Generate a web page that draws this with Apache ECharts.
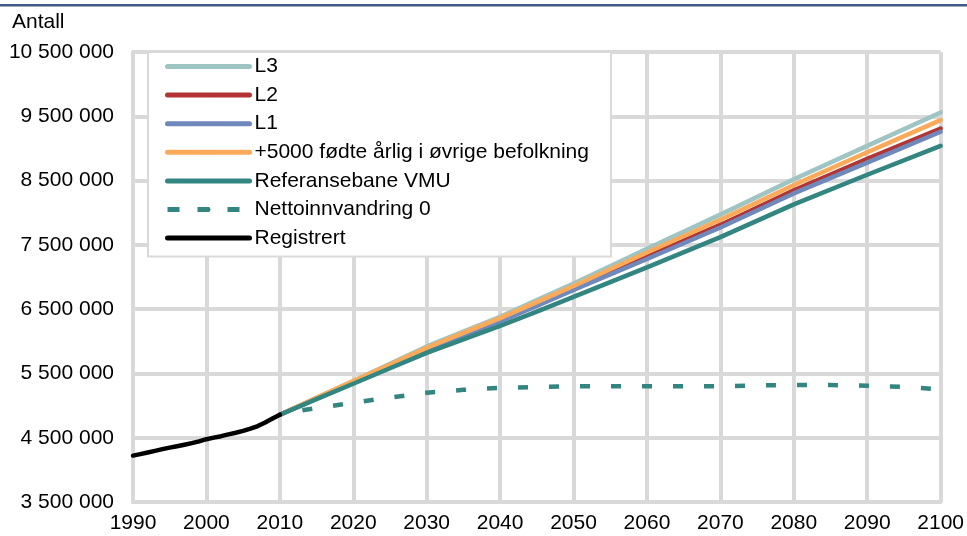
<!DOCTYPE html>
<html>
<head>
<meta charset="utf-8">
<script src="https://cdn.jsdelivr.net/npm/echarts@6/dist/echarts.min.js"></script>
<style>
  html, body { margin: 0; padding: 0; background: #fff; }
  #chart { width: 967px; height: 536px; }
</style>
</head>
<body>
<div id="chart"></div>
<script>
// Registered population 1990–2010
const regYears = [1990, 1991, 1992, 1993, 1994, 1995, 1996, 1997, 1998, 1999, 2000,
                  2001, 2002, 2003, 2004, 2005, 2006, 2007, 2008, 2009, 2010];
const registrert = [4222000, 4245000, 4270000, 4296000, 4322000, 4346000, 4368000, 4391000, 4416000, 4444000, 4477000,
                    4502000, 4524000, 4552000, 4577000, 4606000, 4640000, 4681000, 4737000, 4799000, 4858000];

// Projection years
const projYears = [2010, 2015, 2020, 2025, 2030, 2035, 2040, 2045, 2050, 2060, 2070, 2080, 2090, 2100];
const l3       = [4858000, 5120000, 5380000, 5650000, 5920000, 6150000, 6380000, 6640000, 6900000, 7440000, 7970000, 8520000, 9040000, 9560000];
const l2       = [4858000, 5110000, 5360000, 5620000, 5870000, 6100000, 6330000, 6580000, 6830000, 7320000, 7810000, 8350000, 8840000, 9310000];
const l1       = [4858000, 5110000, 5360000, 5610000, 5850000, 6080000, 6310000, 6550000, 6800000, 7280000, 7770000, 8300000, 8780000, 9260000];
const pluss5000 = [4858000, 5120000, 5380000, 5640000, 5900000, 6130000, 6360000, 6610000, 6860000, 7380000, 7890000, 8430000, 8940000, 9440000];
const referanse = [4858000, 5100000, 5340000, 5580000, 5820000, 6030000, 6240000, 6460000, 6690000, 7150000, 7620000, 8130000, 8590000, 9040000];

// Zero net immigration
const nettoYears = [2010, 2012, 2015, 2020, 2025, 2030, 2035, 2040, 2045, 2050, 2060, 2070, 2075, 2080, 2085, 2090, 2095, 2100];
const netto0     = [4858000, 4910000, 4960000, 5045000, 5125000, 5200000, 5245000, 5275000, 5290000, 5300000, 5300000, 5300000, 5315000, 5320000, 5320000, 5310000, 5290000, 5250000];

// Axis settings
const yMin = 3500000, yMax = 10500000, yStep = 1000000;
const xMin = 1990, xMax = 2100, xStep = 10;

const names = ['L3', 'L2', 'L1', '+5000 fødte årlig i øvrige befolkning',
               'Referansebane VMU', 'Nettoinnvandring 0', 'Registrert'];
const colors = ['#9ec5c3', '#b23434', '#7089bd', '#fbaa5a', '#328580', '#328580', '#000000'];

const pairs = (xs, ys) => xs.map((x, i) => [x, ys[i]]);
const fmt = v => String(v).replace(/\B(?=(\d{3})+(?!\d))/g, ' ');
const FONT = '"Liberation Sans", Arial, sans-serif';
const FS = 21;

function lineSeries(name, color, data, dashed) {
  return {
    name: name,
    type: 'line',
    data: data,
    symbol: 'none',
    smooth: false,
    animation: false,
    lineStyle: dashed
      ? { color: color, width: 4.5, type: [10, 21], dashOffset: 8, cap: 'butt' }
      : { color: color, width: 4.5, cap: 'round', join: 'round' },
    itemStyle: { color: color }
  };
}

const chart = echarts.init(document.getElementById('chart'), null, { renderer: 'canvas' });
chart.setOption({
  animation: false,
  backgroundColor: '#ffffff',
  textStyle: { fontFamily: FONT },
  graphic: [{
    type: 'rect',
    left: 0, top: 4,
    shape: { width: 967, height: 2.5 },
    style: { fill: '#41598a' },
    silent: true
  }],
  title: {
    text: 'Antall',
    left: 7, top: 7,
    textStyle: { fontFamily: FONT, fontSize: FS, fontWeight: 'normal', color: '#000' }
  },
  grid: { left: 133, right: 25, top: 52, bottom: 34, containLabel: false },
  xAxis: {
    type: 'value',
    min: xMin, max: xMax, interval: xStep,
    axisLine: { show: true, lineStyle: { color: '#d9d9d9', width: 4 } },
    axisTick: { show: false },
    axisLabel: { color: '#000', fontSize: FS, fontFamily: FONT, margin: 11, formatter: v => String(v) },
    splitLine: { show: true, lineStyle: { color: '#d9d9d9', width: 4 } }
  },
  yAxis: {
    type: 'value',
    min: yMin, max: yMax, interval: yStep,
    axisLine: { show: true, lineStyle: { color: '#d9d9d9', width: 4 } },
    axisTick: { show: false },
    axisLabel: { color: '#000', fontSize: FS, fontFamily: FONT, margin: 19, formatter: fmt },
    splitLine: { show: true, lineStyle: { color: '#d9d9d9', width: 4 } }
  },
  legend: {
    orient: 'vertical',
    left: 148, top: 52,
    padding: [4, 22, 8, 17],
    backgroundColor: '#ffffff',
    borderColor: '#d9d9d9',
    borderWidth: 2,
    borderRadius: 0,
    itemWidth: 82,
    itemHeight: 5,
    itemGap: 7.6,
    textStyle: { fontFamily: FONT, fontSize: FS, color: '#000', lineHeight: 21, height: 21 },
    data: names.map((n, i) => ({
      name: n,
      lineStyle: i === 5
        ? { width: 5, type: [12, 18], dashOffset: 0, cap: 'butt', color: colors[i] }
        : { width: 5, cap: 'round', color: colors[i] }
    }))
  },
  series: [
    lineSeries(names[0], colors[0], pairs(projYears, l3)),
    lineSeries(names[1], colors[1], pairs(projYears, l2)),
    lineSeries(names[2], colors[2], pairs(projYears, l1)),
    lineSeries(names[3], colors[3], pairs(projYears, pluss5000)),
    lineSeries(names[4], colors[4], pairs(projYears, referanse)),
    lineSeries(names[5], colors[5], pairs(nettoYears, netto0), true),
    lineSeries(names[6], colors[6], pairs(regYears, registrert))
  ]
});
</script>
</body>
</html>
